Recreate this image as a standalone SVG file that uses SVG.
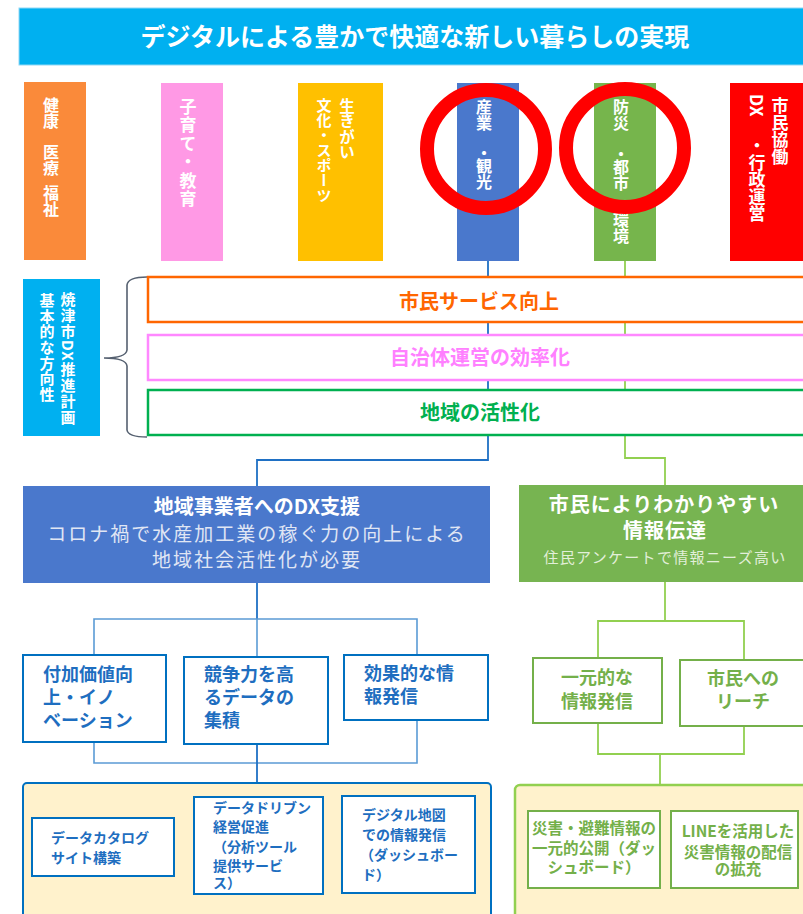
<svg xmlns="http://www.w3.org/2000/svg" width="803" height="914" viewBox="0 0 803 914">
<style>
text{font-family:"Noto Sans CJK JP","Noto Sans",sans-serif;}
.v{writing-mode:vertical-rl;}
.w{fill:#fff;font-weight:bold;}
.band{fill:#fff;stroke-width:2.5;}
.bt{font-size:20px;font-weight:bold;text-anchor:middle;}
.bb{fill:#fff;stroke:#0070C0;stroke-width:2;}
.btx{fill:#1E6EC0;font-weight:bold;font-size:18px;}
.stx{fill:#1E6EC0;font-weight:bold;font-size:14px;}
.gb{fill:#fff;stroke:#74B04A;stroke-width:2;}
.gtx{fill:#74B04A;font-weight:bold;text-anchor:middle;font-size:18px;}
.gstx{fill:#74B04A;font-weight:bold;text-anchor:middle;font-size:15.5px;}
.cb{fill:none;stroke:#1F70C4;stroke-width:1.8;}
.cb2{fill:none;stroke:#5B9BD5;stroke-width:1.6;}
.cg{fill:none;stroke:#92D050;stroke-width:1.8;}
.ring{fill:none;stroke:#FF0000;stroke-width:14;}
</style>
<rect width="803" height="914" fill="#fff"/>

<g id="connectors">
  <path class="cb" d="M488,261 V460 H257 V486"/>
  <path class="cg" d="M625,261 V458 H665 V485"/>
  <path class="cb" d="M257,583 V619"/>
  <path class="cb2" d="M94,655 V619 H417 V655"/>
  <path class="cb2" d="M257,619 V657"/>
  <path class="cb2" d="M94,742 V763 H417 V720"/>
  <path class="cb" d="M257,744 V783"/>
  <path class="cg" d="M665,582 V621"/>
  <path class="cg" d="M598,658 V621 H744 V660"/>
  <path class="cg" d="M598,723 V754 H744 V726"/>
  <path class="cg" d="M660,754 V785"/>
</g>

<g id="header">
  <rect x="19" y="8" width="790" height="57" fill="#00B0F0" stroke="#8FD8F5" stroke-width="1"/>
  <text x="415" y="46" font-size="25" class="w" text-anchor="middle">デジタルによる豊かで快適な新しい暮らしの実現</text>
</g>

<g id="col-health">
  <rect x="24" y="82" width="62" height="178" fill="#FA8A3A"/>
  <text class="v w" x="51" font-size="16"><tspan y="97">健康</tspan><tspan y="144">医療</tspan><tspan y="185">福祉</tspan></text>
</g>
<g id="col-child">
  <rect x="161" y="83" width="62" height="178" fill="#FF99E5"/>
  <text class="v w" x="188" y="98" font-size="17" letter-spacing="1.5">子育て・教育</text>
</g>
<g id="col-culture">
  <rect x="298" y="83" width="85" height="178" fill="#FFC000"/>
  <text class="v w" x="347" y="98" font-size="15.5">生きがい</text>
  <text class="v w" x="324" y="98" font-size="15">文化・スポーツ</text>
</g>
<g id="col-industry">
  <rect x="457" y="83" width="62" height="178" fill="#4A78CC"/>
  <text class="v w" x="484" font-size="16"><tspan y="99">産業</tspan><tspan y="145">・</tspan><tspan y="158">観光</tspan></text>
</g>
<g id="col-disaster">
  <rect x="594" y="83" width="62" height="178" fill="#76B54C"/>
  <text class="v w" x="621" font-size="16"><tspan y="99">防災</tspan><tspan y="146">・</tspan><tspan y="159">都市</tspan><tspan y="212">環境</tspan></text>
</g>
<g id="col-admin">
  <rect x="730" y="83" width="80" height="178" fill="#FF0000"/>
  <text class="v w" x="780" y="97" font-size="17">市民協働</text>
  <text class="v w" x="757" font-size="17"><tspan y="94">DX</tspan><tspan y="137">・行政運営</tspan></text>
</g>

<g id="highlights">
  <circle class="ring" cx="486" cy="149" r="59"/>
  <circle class="ring" cx="625" cy="148" r="59"/>
</g>

<g id="plan">
  <rect x="23" y="279" width="77" height="157" fill="#00B0F0"/>
  <text class="v w" x="68" y="292" font-size="15" letter-spacing="1">焼津市DX推進計画</text>
  <text class="v w" x="47" y="293" font-size="15" letter-spacing="0.6">基本的な方向性</text>
  <path d="M147,277 Q128,277 127,285 V350 Q126,358 104,358 Q126,358 127,366 V430 Q128,437 147,437" fill="none" stroke="#556070" stroke-width="1.6"/>
</g>

<g id="band-service">
  <rect class="band" x="148" y="277" width="670" height="45" stroke="#FF6600"/>
  <text class="bt" x="479" y="309" fill="#FF6600">市民サービス向上</text>
</g>
<g id="band-efficiency">
  <rect class="band" x="148" y="335" width="670" height="45" stroke="#FF88FF"/>
  <text class="bt" x="480" y="365" fill="#FF80FF">自治体運営の効率化</text>
</g>
<g id="band-region">
  <rect class="band" x="148" y="390" width="670" height="45" stroke="#00B050"/>
  <text class="bt" x="480" y="420" fill="#00B050">地域の活性化</text>
</g>

<g id="dx-support">
  <rect x="23" y="486" width="467" height="97" fill="#4A78CC"/>
  <text class="w" x="257" y="514" font-size="20" text-anchor="middle">地域事業者へのDX支援</text>
  <text x="257" y="541" font-size="19" letter-spacing="2" fill="#E0E6F4" text-anchor="middle">コロナ禍で水産加工業の稼ぐ力の向上による</text>
  <text x="257" y="567" font-size="19" letter-spacing="2" fill="#E0E6F4" text-anchor="middle">地域社会活性化が必要</text>
</g>
<g id="info-delivery">
  <rect x="519" y="485" width="290" height="97" fill="#77B451"/>
  <text class="w" x="664" y="512" font-size="20" letter-spacing="1" text-anchor="middle">市民によりわかりやすい</text>
  <text class="w" x="665" y="538" font-size="20" letter-spacing="1" text-anchor="middle">情報伝達</text>
  <text x="665" y="563" font-size="15" letter-spacing="1.3" fill="#E2EFD9" text-anchor="middle">住民アンケートで情報ニーズ高い</text>
</g>

<g id="value-add">
  <rect class="bb" x="23" y="655" width="143" height="87"/>
  <text class="btx" x="43" y="681">付加価値向</text>
  <text class="btx" x="43" y="704">上・イノ</text>
  <text class="btx" x="43" y="727">ベーション</text>
</g>
<g id="data-accum">
  <rect class="bb" x="184" y="657" width="144" height="87" stroke-width="2.5"/>
  <text class="btx" x="204" y="681">競争力を高</text>
  <text class="btx" x="204" y="704">るデータの</text>
  <text class="btx" x="204" y="727">集積</text>
</g>
<g id="effective-info">
  <rect class="bb" x="344" y="655" width="144" height="65"/>
  <text class="btx" x="364" y="680">効果的な情</text>
  <text class="btx" x="364" y="703">報発信</text>
</g>
<g id="unified-info">
  <rect class="gb" x="533" y="658" width="129" height="65"/>
  <text class="gtx" x="597" y="684">一元的な</text>
  <text class="gtx" x="597" y="708">情報発信</text>
</g>
<g id="reach">
  <rect class="gb" x="680" y="660" width="130" height="66"/>
  <text class="gtx" x="743" y="685">市民への</text>
  <text class="gtx" x="743" y="708">リーチ</text>
</g>

<g id="biz-measures">
  <rect x="23" y="783" width="468" height="150" rx="4" fill="#FFF2CC" stroke="#0070C0" stroke-width="2"/>
  <rect class="bb" x="32" y="818" width="142" height="58"/>
  <text class="stx" x="51" y="843">データカタログ</text>
  <text class="stx" x="51" y="863">サイト構築</text>
  <rect class="bb" x="194" y="797" width="129" height="97"/>
  <text class="stx" x="213" y="813">データドリブン</text>
  <text class="stx" x="213" y="832">経営促進</text>
  <text class="stx" x="213" y="852">（分析ツール</text>
  <text class="stx" x="213" y="871">提供サービ</text>
  <text class="stx" x="213" y="888">ス）</text>
  <rect class="bb" x="342" y="796" width="133" height="97"/>
  <text class="stx" x="362" y="820">デジタル地図</text>
  <text class="stx" x="362" y="840">での情報発信</text>
  <text class="stx" x="360" y="860">（ダッシュボー</text>
  <text class="stx" x="362" y="880">ド）</text>
</g>

<g id="citizen-measures">
  <rect x="515" y="785" width="300" height="150" rx="5" fill="#FFF2CC" stroke="#92D050" stroke-width="2.5"/>
  <rect class="gb" x="528" y="811" width="132" height="77"/>
  <text class="gstx" x="594" y="834" font-size="15.5">災害・避難情報の</text>
  <text class="gstx" x="594" y="854">一元的公開（ダッ</text>
  <text class="gstx" x="594" y="873">シュボード）</text>
  <rect class="gb" x="671" y="811" width="127" height="77"/>
  <text class="gstx" x="738" y="837">LINEを活用した</text>
  <text class="gstx" x="738" y="858">災害情報の配信</text>
  <text class="gstx" x="738" y="875">の拡充</text>
</g>
</svg>
